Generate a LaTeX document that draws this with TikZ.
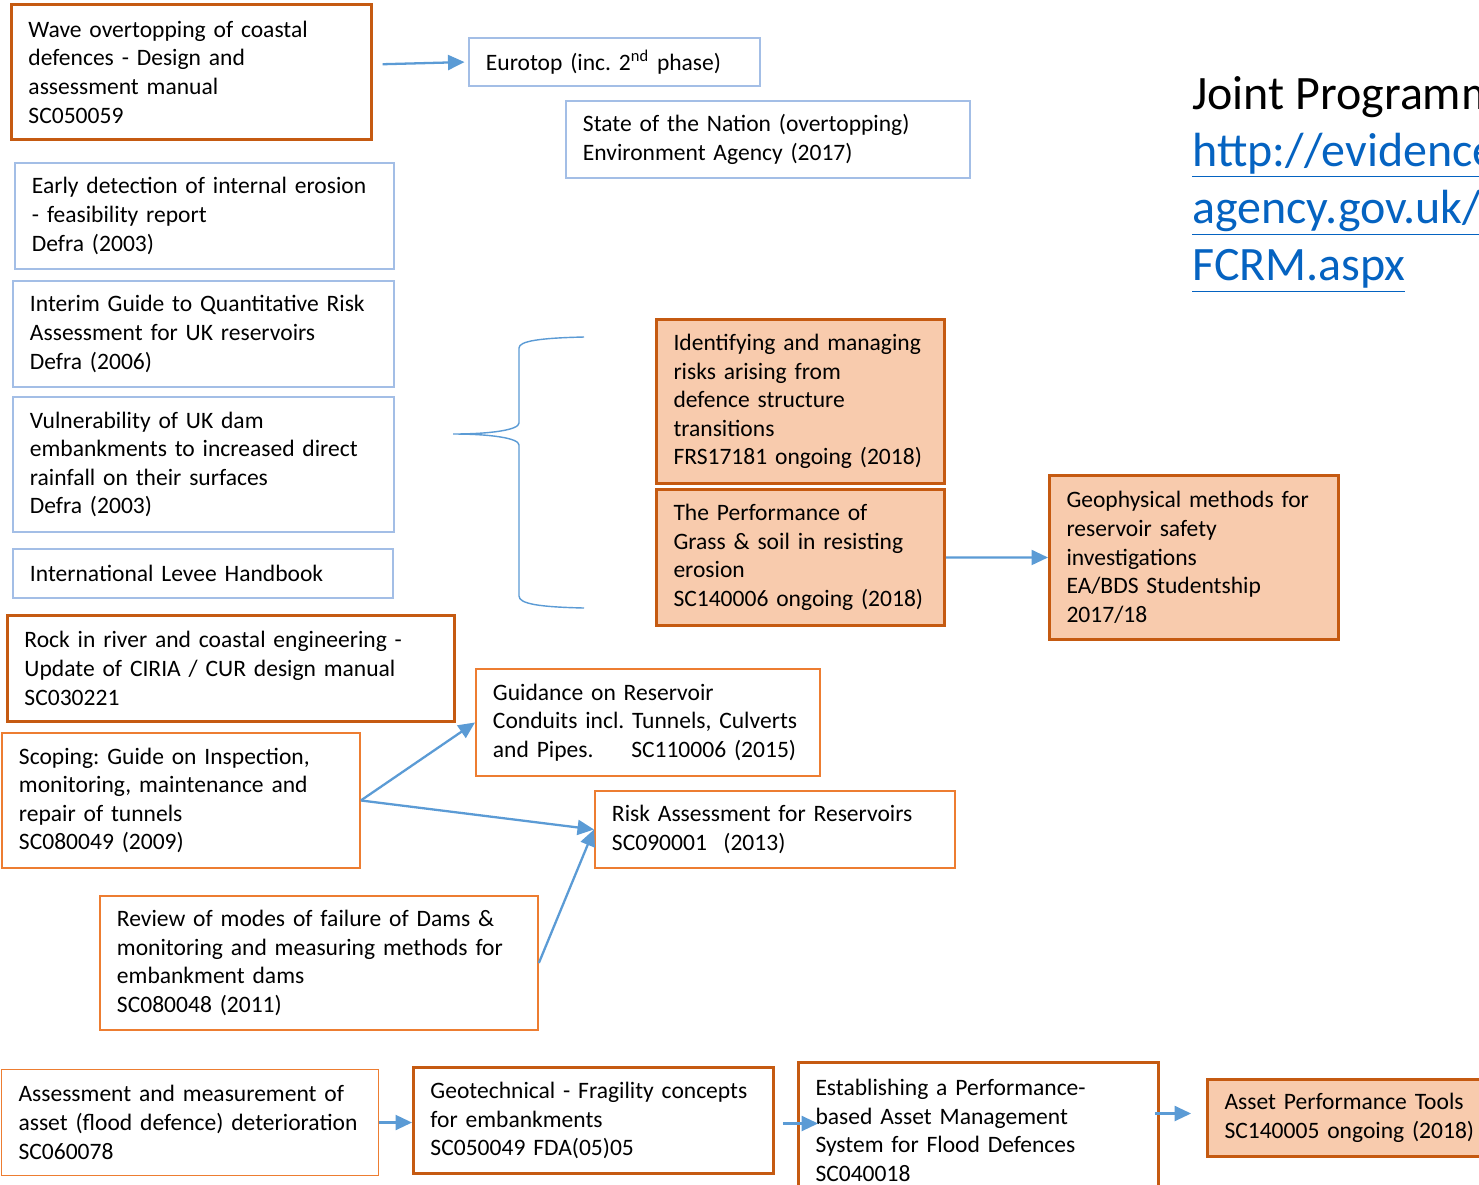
\documentclass[tikz,border=0pt]{standalone}
\usepackage{fontspec}
\setmainfont{Carlito}
\usepackage{tikz}
\usetikzlibrary{arrows.meta,positioning,calc}
\frenchspacing
\hyphenpenalty=10000
\exhyphenpenalty=10000
\definecolor{boxblue}{HTML}{A3BEE6}
\definecolor{darkorange}{HTML}{C55A11}
\definecolor{midorange}{HTML}{ED7D31}
\definecolor{peach}{HTML}{F8CBAD}
\definecolor{arrowblue}{HTML}{5B9BD5}
\definecolor{linkblue}{HTML}{0563C1}
\tikzset{
  box/.style={anchor=north west, align=left, inner xsep=0.34cm, inner ysep=0pt, font=\fontsize{13.4}{16.3}\selectfont},
  report/.style={box, draw=boxblue, line width=1.1pt},
  projdark/.style={box, draw=darkorange, line width=1.7pt},
  proj/.style={box, draw=midorange, line width=1.1pt},
  projthin/.style={box, draw=midorange, line width=0.6pt},
  ongoing/.style={box, draw=darkorange, fill=peach, line width=1.7pt},
  arrow/.style={-{Triangle[length=3.3mm,width=3mm]}, draw=arrowblue, fill=arrowblue, line width=1.3pt},
  brace/.style={draw=arrowblue, line width=0.8pt}
}
\begin{document}
\begin{tikzpicture}[x=0.02cm,y=-0.02cm]
  \fill[white] (0,0) rectangle (1479,1184);
  \useasboundingbox (0,0) rectangle (1479,1184);
  \node[projdark,text width=6.52cm,minimum height=2.7cm] (wave) at (10,3) {Wave overtopping of coastal\\defences - Design and\\assessment manual\\SC050059};
  \node[report,text width=5.14cm,minimum height=0.96cm] (eurotop) at (468,37) {Eurotop (inc. 2\textsuperscript{nd} phase)};
  \node[report,text width=7.4cm,minimum height=1.54cm] (nation) at (565,100) {State of the Nation (overtopping)\\Environment Agency (2017)};
  \node[report,text width=6.9cm,minimum height=2.12cm] (early) at (14,162) {Early detection of internal erosion\\- feasibility report\\Defra (2003)};
  \node[report,text width=6.94cm,minimum height=2.12cm] (interim) at (12,280) {Interim Guide to Quantitative Risk\\Assessment for UK reservoirs\\Defra (2006)};
  \node[report,text width=6.94cm,minimum height=2.7cm] (vuln) at (12,396) {Vulnerability of UK dam\\embankments to increased direct\\rainfall on their surfaces\\Defra (2003)};
  \node[report,text width=6.92cm,minimum height=0.98cm] (levee) at (12,548) {International Levee Handbook};
  \node[projdark,text width=8.26cm,minimum height=2.12cm] (rock) at (6,614) {Rock in river and coastal engineering -\\Update of CIRIA / CUR design manual\\SC030221};
  \node[proj,text width=6.48cm,minimum height=2.7cm] (scoping) at (1,732) {Scoping: Guide on Inspection,\\monitoring, maintenance and\\repair of tunnels\\SC080049 (2009)};
  \node[proj,text width=8.08cm,minimum height=2.68cm] (review) at (99,895) {Review of modes of failure of Dams \&\\monitoring and measuring methods for\\embankment dams\\SC080048 (2011)};
  \node[proj,text width=6.2cm,minimum height=2.14cm] (guidance) at (475,668) {Guidance on Reservoir\\Conduits incl. Tunnels, Culverts\\and Pipes.\hspace{1.6em}SC110006 (2015)};
  \node[proj,text width=6.52cm,minimum height=1.54cm] (risk) at (594,790) {Risk Assessment for Reservoirs\\SC090001\hspace{0.7em}(2013)};
  \node[ongoing,text width=5.08cm,minimum height=3.28cm] (identify) at (655,318) {Identifying and managing\\risks arising from\\defence structure\\transitions\\FRS17181 ongoing (2018)};
  \node[ongoing,text width=5.08cm,minimum height=2.72cm] (grass) at (655,488) {The Performance of\\Grass \& soil in resisting\\erosion\\SC140006 ongoing (2018)};
  \node[ongoing,text width=5.1cm,minimum height=3.28cm] (geo) at (1048,474) {Geophysical methods for\\reservoir safety\\investigations\\EA/BDS Studentship\\2017/18};
  \node[projthin,text width=6.86cm,minimum height=2.12cm] (assess) at (1,1069) {Assessment and measurement of\\asset (flood defence) deterioration\\SC060078};
  \node[projdark,text width=6.52cm,minimum height=2.12cm] (geotech) at (412,1066) {Geotechnical - Fragility concepts\\for embankments\\SC050049 FDA(05)05};
  \node[projdark,text width=6.52cm,minimum height=2.72cm] (establish) at (797,1061) {Establishing a Performance-\\based Asset Management\\System for Flood Defences\\SC040018};
  \node[ongoing,text width=5.1cm,minimum height=1.54cm] (tools) at (1206,1078) {Asset Performance Tools\\SC140005 ongoing (2018)};
  \node[anchor=north west,align=left,inner sep=0pt,font=\fontsize{27.3}{32.5}\selectfont] (title) at (1192,76) {Joint Programme\\\color{linkblue}\underline{http://evidence}\\\color{linkblue}\underline{agency.gov.uk/}\\\color{linkblue}\underline{FCRM.aspx}};
  \draw[arrow, shorten <=5.5pt, shorten >=2pt] ([yshift=0.15cm]wave.east) -- (eurotop.west);
  \draw[arrow] (grass.east) -- (geo.west);
  \draw[arrow] (scoping.east) -- (guidance.west);
  \draw[arrow] (scoping.east) -- (risk.west);
  \draw[arrow] (review.east) -- (risk.west);
  \draw[arrow] (assess.east) -- (assess.east -| geotech.west);
  \draw[arrow, shorten <=4.5pt, shorten >=-12pt] ([yshift=-0.06cm]geotech.east) -- ([yshift=-0.06cm]geotech.east -| establish.west);
  \draw[arrow, shorten >=8.5pt] ([xshift=-0.1cm,yshift=0.09cm]establish.east |- tools.west) -- ([yshift=0.09cm]tools.west);
  \draw[brace] (584,337) .. controls (540,338) and (519,341) .. (519,348) -- (519,423) .. controls (519,430) and (490,434) .. (453,434) .. controls (490,434) and (519,438) .. (519,445) -- (519,596) .. controls (519,604) and (540,607) .. (584,608);
\end{tikzpicture}
\end{document}
